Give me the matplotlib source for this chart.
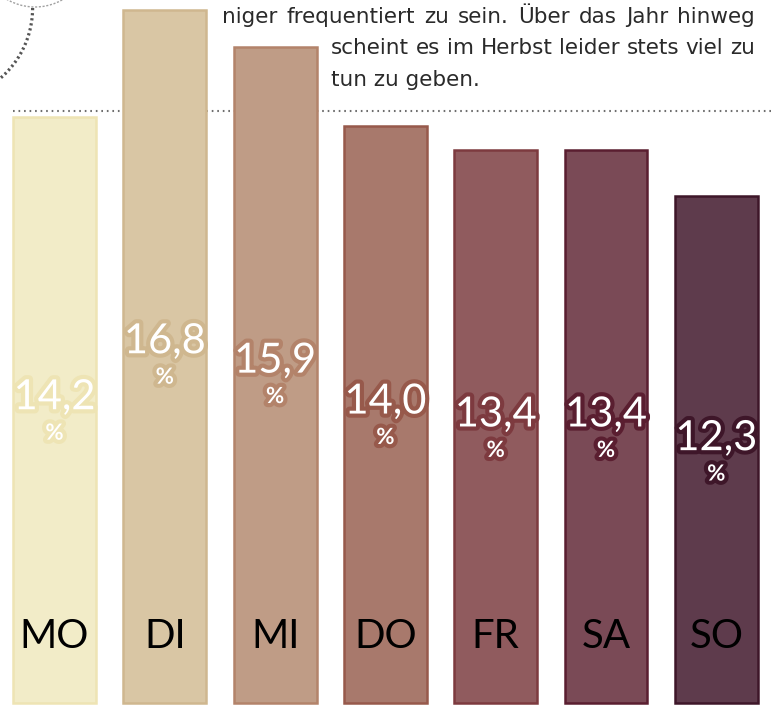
import matplotlib
matplotlib.use("Agg")
import matplotlib.pyplot as plt
import matplotlib.patheffects as pe
import matplotlib.transforms as mtransforms
from matplotlib.patches import Circle
import numpy as np

# ---- data ----
days = ["MO", "DI", "MI", "DO", "FR", "SA", "SO"]
values = [14.2, 16.8, 15.9, 14.0, 13.4, 13.4, 12.3]
labels = ["14,2", "16,8", "15,9", "14,0", "13,4", "13,4", "12,3"]
fills = ["#F2ECC8", "#D9C6A4", "#BF9C86", "#A8796C", "#905B5E", "#7A4A56", "#5E3B4C"]
edges = ["#EEE4B4", "#CFB78F", "#B3836A", "#97594B", "#7D3A3F", "#5A1E30", "#3E1629"]
text_lines = [
    "niger frequentiert zu sein. Über das Jahr hinweg",
    "scheint es im Herbst leider stets viel zu",
    "tun zu geben.",
]

W, H = 771, 707
fig = plt.figure(figsize=(W / 100, H / 100), dpi=100)
ax = fig.add_axes([0, 0, 1, 1])
ax.set_axis_off()

ppu = 41.25                 # pixels per unit
x0 = 54.5 / 110.3
ax.set_xlim(-x0, -x0 + W / 110.3)
ybot = -4 / ppu
ax.set_ylim(ybot, ybot + H / ppu)

# pixel (top-left origin) transform
ptrans = mtransforms.Affine2D().scale(1 / W, -1 / H).translate(0, 1) + fig.transFigure

# dotted line behind bars
ax.plot([13, W], [110.5, 110.5], transform=ptrans, color="#6E6E6E", lw=1.5,
        linestyle=(0, (0.8, 1.85)), dash_capstyle="butt", zorder=1)

# decorative circles
c1 = Circle((35, -48.6), 55.6, transform=ptrans, fill=False, ec="#A0A0A0",
            lw=1.0, linestyle=(0, (1.5, 1.2)), zorder=1)
fig.add_artist(c1)
t = np.linspace(0, np.radians(62), 80)
ax.plot(-60 + 92.6 * np.cos(t), 8 + 92.6 * np.sin(t), transform=ptrans,
        color="#555555", lw=2.3, linestyle=(0, (0.7, 0.9)), zorder=1)

x = np.arange(len(days))
ax.bar(x, values, width=0.752, color=fills, edgecolor=edges, linewidth=1.8, zorder=2)

for i, (v, lab) in enumerate(zip(values, labels)):
    eff = [pe.withStroke(linewidth=6, foreground=edges[i])]
    ax.text(i, v * 0.522, lab, ha="center", va="center", fontsize=30,
            family="Lato", color="white", path_effects=eff, zorder=4)
    ax.text(i, v * 0.522 - 0.87, "%", ha="center", va="center", fontsize=16,
            family="Lato", fontweight="bold", color="white", path_effects=eff, zorder=4)
    ax.text(i, 1.62, days[i], ha="center", va="center", fontsize=29,
            family="Lato", color="black", zorder=4)

# justified paragraph text
renderer = fig.canvas.get_renderer()
fs = 15.5
fam = "DejaVu Sans"
tcol = "#2a2a2a"
line_specs = [(222, 755, 17, True), (331, 755, 48, True), (331, None, 80, False)]
for (xs, xe, yc, just), line in zip(line_specs, text_lines):
    words = line.split(" ")
    if not just:
        ax.text(xs, yc, line, transform=ptrans, ha="left", va="center",
                fontsize=fs, family=fam, color=tcol, zorder=4)
        continue
    arts = []
    widths = []
    for w in words:
        a = ax.text(0, yc, w, transform=ptrans, ha="left", va="center",
                    fontsize=fs, family=fam, color=tcol, zorder=4)
        bb = a.get_window_extent(renderer=renderer)
        arts.append(a)
        widths.append(bb.width)
    gap = (xe - xs - sum(widths)) / (len(words) - 1)
    cur = xs
    for a, w in zip(arts, widths):
        a.set_x(cur)
        cur += w + gap

fig.savefig("out.png", dpi=100)
